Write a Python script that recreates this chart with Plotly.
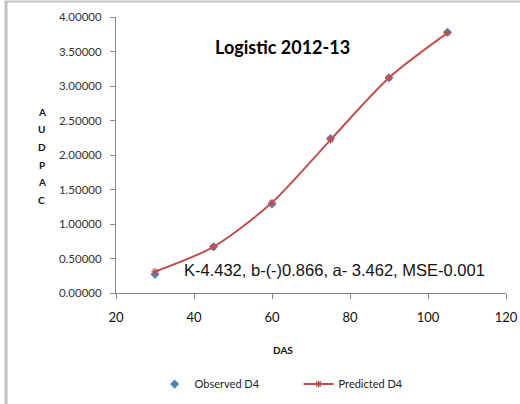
import plotly.graph_objects as go

das = [30, 45, 60, 75, 90, 105]
observed = [0.27, 0.67, 1.29, 2.24, 3.12, 3.78]
predicted = [0.31, 0.67, 1.31, 2.22, 3.12, 3.77]
x_ticks = [20, 40, 60, 80, 100, 120]
y_ticks = [0, 0.5, 1.0, 1.5, 2.0, 2.5, 3.0, 3.5, 4.0]
title_text = "Logistic 2012-13"
fit_text = "K-4.432, b-(-)0.866, a- 3.462, MSE-0.001"
y_title_letters = list("AUDPAC")

fig = go.Figure()
fig.add_trace(go.Scatter(
    x=das, y=observed, mode="markers", name="Observed D4",
    marker=dict(symbol="diamond", size=7, color="#4F81BD"),
))
fig.add_trace(go.Scatter(
    x=das, y=predicted, mode="lines+markers", name="Predicted D4",
    line=dict(color="#C0504D", width=2, shape="spline", smoothing=0.8),
    marker=dict(symbol="asterisk-open", size=6, color="#C0504D",
                line=dict(color="#C0504D", width=1.2)),
))

axis_common = dict(showgrid=False, zeroline=False, showline=True,
                   linecolor="#868686", linewidth=1, ticks="outside",
                   ticklen=5, tickcolor="#868686", automargin=False)

fig.update_layout(
    width=520, height=404,
    margin=dict(l=116, r=14, t=17, b=111, autoexpand=False),
    paper_bgcolor="white", plot_bgcolor="white",
    font=dict(family="Lato, Open Sans, sans-serif", color="#222222"),
    xaxis=dict(range=[20, 120], tickvals=x_ticks, ticklabelstandoff=7,
               tickfont=dict(size=13, color="#111111"), **axis_common),
    yaxis=dict(range=[0, 4], tickvals=y_ticks, tickformat=".5f",
               ticklabelstandoff=6,
               tickfont=dict(size=11.5, color="#333333"), **axis_common),
    legend=dict(orientation="h", x=0.099, y=-0.33, xanchor="left",
                yanchor="middle", font=dict(size=11, color="#222222"),
                itemwidth=30, entrywidth=99, bgcolor="rgba(0,0,0,0)"),
    showlegend=True,
)

common_anno = dict(xref="paper", yref="paper", showarrow=False,
                   xanchor="center", yanchor="middle")
annotations = [
    dict(text="<b>" + title_text + "</b>", x=0.428, y=0.891,
         font=dict(size=18, color="#000000", family="Lato, sans-serif"),
         **common_anno),
    dict(text=fit_text, x=0.56, y=0.085,
         font=dict(size=16.5, color="#111111",
                   family="Liberation Sans, Arial, sans-serif"),
         **common_anno),
    dict(text="<b>DAS</b>", x=0.428, y=-0.207,
         font=dict(size=10, color="#111111"), **common_anno),
]
for i, letter in enumerate(y_title_letters):
    ypx = 112 + i * 17.5
    annotations.append(dict(
        text="<b>" + letter + "</b>", x=-0.191, y=1 - (ypx - 17) / 276,
        font=dict(size=10, color="#111111"), **common_anno))
fig.update_layout(annotations=annotations)

shapes = [
    dict(type="line", xref="paper", yref="paper", x0=-0.282, x1=-0.282,
         y0=1.056, y1=-0.41, line=dict(color="#C4C4C4", width=3)),
    dict(type="line", xref="paper", yref="paper", x0=-0.286, x1=1.04,
         y0=1.056, y1=1.056, line=dict(color="#C4C4C4", width=2)),
]
fig.update_layout(shapes=shapes)

fig.write_html("out.html", config={"displayModeBar": False},
               post_script="document.body.style.margin='0';")
